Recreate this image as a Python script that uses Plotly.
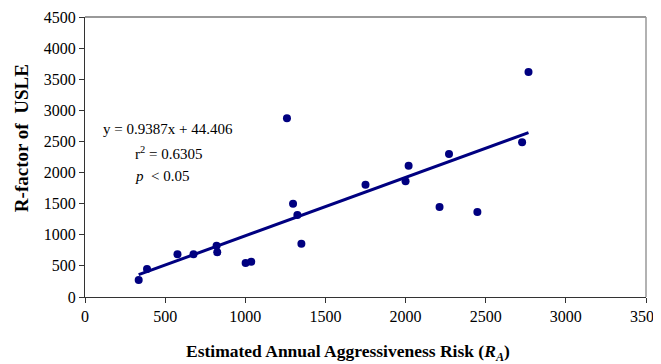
import plotly.graph_objects as go

ra = [335, 387, 577, 677, 821, 825, 1002, 1037, 1260, 1298, 1325, 1350,
      1750, 2000, 2019, 2212, 2271, 2448, 2727, 2767]
rfactor = [273, 450, 686, 686, 825, 718, 546, 568, 2873, 1500, 1318, 857,
           1806, 1860, 2111, 1447, 2300, 1367, 2487, 3618]
slope = 0.9387
intercept = 44.406
trend_x = [min(ra), max(ra)]
trend_y = [slope * v + intercept for v in trend_x]

navy = "#000080"
font = "Liberation Serif"

fig = go.Figure()
fig.add_trace(go.Scatter(x=trend_x, y=trend_y, mode="lines",
                         line=dict(color=navy, width=3), showlegend=False))
fig.add_trace(go.Scatter(x=ra, y=rfactor, mode="markers",
                         marker=dict(color=navy, size=8), showlegend=False))

# page body has an 8px default margin; compensate in figure size/margins
fig.update_layout(
    width=653, height=356,
    margin=dict(l=77, r=15, t=9, b=67),
    paper_bgcolor="white", plot_bgcolor="white",
    font=dict(family=font, size=16, color="black"),
    xaxis=dict(range=[0, 3500], dtick=500, showgrid=False, zeroline=False,
               showline=True, linecolor="#333", linewidth=1,
               ticks="outside", ticklen=5, tickcolor="#333",
               tickfont=dict(size=16), ticklabeloverflow="allow",
               automargin=False),
    yaxis=dict(range=[0, 4500], dtick=500, showgrid=False, zeroline=False,
               showline=True, linecolor="#333", linewidth=1,
               ticks="outside", ticklen=5, tickcolor="#333",
               tickfont=dict(size=16), automargin=False),
    shapes=[
        dict(type="line", xref="paper", yref="paper", x0=0, x1=1, y0=1, y1=1,
             line=dict(color="#777", width=1.5)),
        dict(type="line", xref="paper", yref="paper", x0=1, x1=1, y0=0, y1=1,
             line=dict(color="#999", width=1.5)),
    ],
)

# axis titles
fig.add_annotation(x=-0.112, y=0.568, xref="paper", yref="paper",
                   xanchor="center", yanchor="middle",
                   text="<b>R-factor of  USLE</b>", textangle=-90, showarrow=False,
                   font=dict(size=19, family=font))
fig.add_annotation(x=0.468, y=-0.197, xref="paper", yref="paper",
                   xanchor="center", yanchor="middle",
                   text="<b>Estimated Annual Aggressiveness Risk (<i>R<sub>A</sub></i>)</b>",
                   showarrow=False, font=dict(size=17.5, family=font))

# regression text
fig.add_annotation(x=100, y=2700, xref="x", yref="y", xanchor="left",
                   text="y = 0.9387x + 44.406", showarrow=False,
                   font=dict(size=15, family=font))
fig.add_annotation(x=300, y=2310, xref="x", yref="y", xanchor="left",
                   text="r<sup>2</sup> = 0.6305", showarrow=False,
                   font=dict(size=15, family=font))
fig.add_annotation(x=300, y=1945, xref="x", yref="y", xanchor="left",
                   text="<i>p</i>  < 0.05", showarrow=False,
                   font=dict(size=15, family=font))

fig.write_html("out.html")
